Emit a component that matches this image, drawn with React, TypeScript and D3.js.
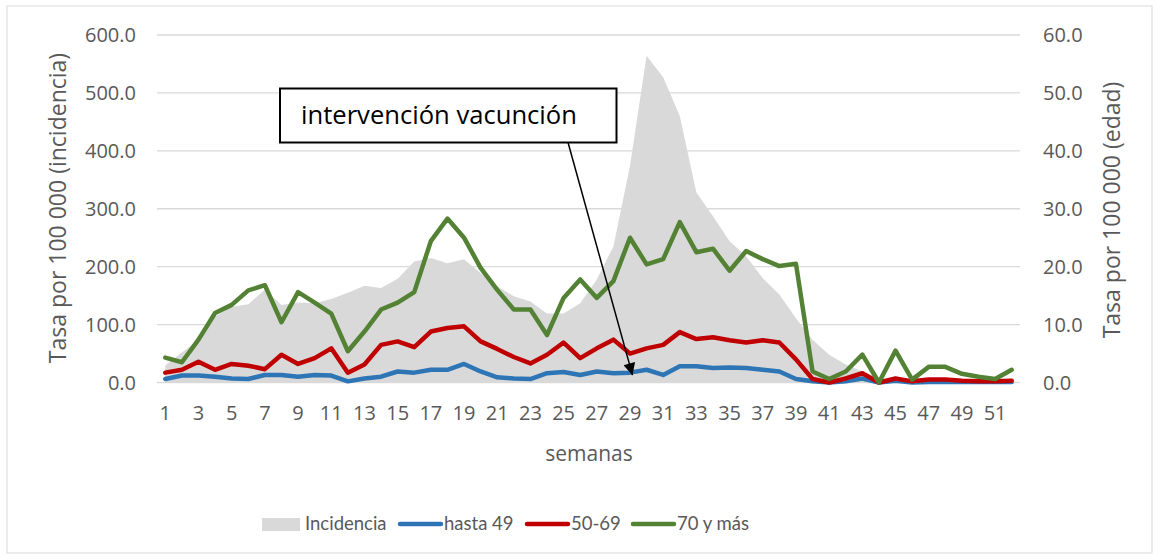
import React from 'react';
import * as d3 from 'd3';

// semanas epidemiológicas
const weeks = d3.range(1, 53);

// incidencia (eje izquierdo)
const incidencia = [
  30, 52, 74, 114, 131, 135, 160, 134, 138, 137, 144, 155, 167, 163, 179, 209, 215, 206,
  213, 189, 166, 149, 140, 119, 119, 137, 178, 235, 374, 564, 527, 460, 328, 287, 244, 218,
  180, 152, 111, 74, 48, 31, 19, 7, 5, 3, 3, 3, 3, 3, 3, 3,
];

// tasas por edad (eje derecho)
const hasta49 = [
  0.6, 1.2, 1.2, 1.0, 0.7, 0.6, 1.3, 1.3, 1.0, 1.3, 1.2, 0.2, 0.7, 1.0, 1.9, 1.7, 2.2, 2.2,
  3.2, 1.9, 0.9, 0.7, 0.6, 1.6, 1.8, 1.3, 1.9, 1.6, 1.7, 2.2, 1.3, 2.8, 2.8, 2.5, 2.6, 2.5,
  2.2, 1.9, 0.6, 0.2, 0, 0.2, 0.7, 0, 0.3, 0, 0.1, 0.1, 0.1, 0.1, 0.1, 0.1,
];
const de50a69 = [
  1.7, 2.2, 3.6, 2.2, 3.2, 2.9, 2.3, 4.8, 3.2, 4.2, 5.9, 1.7, 3.1, 6.5, 7.1, 6.1, 8.8, 9.4,
  9.7, 7.1, 5.8, 4.4, 3.3, 4.8, 6.9, 4.2, 5.9, 7.4, 5.0, 5.9, 6.5, 8.7, 7.5, 7.8, 7.3, 6.9,
  7.3, 6.9, 4.0, 0.6, 0, 0.7, 1.6, 0, 0.7, 0.2, 0.5, 0.5, 0.3, 0.2, 0.2, 0.3,
];
const de70 = [
  4.3, 3.5, 7.4, 12.0, 13.4, 15.9, 16.8, 10.4, 15.6, 13.8, 11.9, 5.4, 8.8, 12.6, 13.8, 15.6, 24.4, 28.3,
  25.0, 19.8, 16.0, 12.6, 12.6, 8.2, 14.6, 17.8, 14.6, 17.5, 25.0, 20.4, 21.3, 27.7, 22.5, 23.1, 19.3, 22.7,
  21.3, 20.1, 20.5, 1.9, 0.6, 1.9, 4.8, 0, 5.5, 0.5, 2.7, 2.7, 1.5, 1.0, 0.6, 2.2,
];

const leftTicks = [0, 100, 200, 300, 400, 500, 600];
const rightTicks = [0, 10, 20, 30, 40, 50, 60];

const series = [
  { name: 'hasta 49', values: hasta49, color: '#2E75B6' },
  { name: '50-69', values: de50a69, color: '#C00000' },
  { name: '70 y más', values: de70, color: '#548235' },
];

const W = 1158;
const H = 559;
const font = '"Open Sans", "Noto Sans", sans-serif';
const narrow = 'Lato, "Liberation Sans", sans-serif';

const App = () => {
  const x = d3.scaleBand<number>().domain(weeks).range([157, 1020]);
  const cx = (w: number) => (x(w) as number) + x.bandwidth() / 2;
  const yL = d3.scaleLinear().domain([0, 600]).range([382.5, 35]);
  const yR = d3.scaleLinear().domain([0, 60]).range([382.5, 35]);

  const area = d3.area<number>()
    .x((_, i) => cx(weeks[i]))
    .y0(yL(0))
    .y1(d => yL(d));

  const line = d3.line<number>()
    .x((_, i) => cx(weeks[i]))
    .y(d => yR(d));

  // flecha de la anotación
  const arrowFrom = { x: cx(25) + 4.5, y: 142.7 };
  const arrowTo = { x: cx(29) + 2.5, y: yR(hasta49[28]) + 2.5 };

  return (
    <svg width={W} height={H} style={{ position: 'absolute', left: 0, top: 0, fontFamily: font }}>
      <defs>
        <marker id="arrow" viewBox="0 0 10 10" refX="10" refY="5" markerUnits="userSpaceOnUse"
          markerWidth="16" markerHeight="12" orient="auto">
          <path d="M0,0 L10,5 L0,10 z" fill="#000" />
        </marker>
      </defs>
      <rect x={0} y={0} width={W} height={H} fill="#fff" />
      <rect x={7} y={6} width={1145} height={547} fill="none" stroke="#d9d9d9" strokeWidth={1} />

      {/* rejilla */}
      {leftTicks.map(t => (
        <line key={t} x1={157} x2={1020} y1={yL(t)} y2={yL(t)} stroke="#d9d9d9" strokeWidth={1.3} />
      ))}

      <path d={area(incidencia) || ''} fill="#d9d9d9" />

      {series.map(s => (
        <path key={s.name} d={line(s.values) || ''} fill="none" stroke={s.color} strokeWidth={4.5}
          strokeLinejoin="round" strokeLinecap="round" />
      ))}

      {/* ejes */}
      {leftTicks.map(t => (
        <text key={t} x={136} y={yL(t)} dy="0.36em" textAnchor="end" fontSize={20} fill="#595959">
          {t.toFixed(1)}
        </text>
      ))}
      {rightTicks.map(t => (
        <text key={t} x={1043} y={yR(t)} dy="0.36em" textAnchor="start" fontSize={20} fill="#595959">
          {t.toFixed(1)}
        </text>
      ))}
      {weeks.filter(w => w % 2 === 1).map(w => (
        <text key={w} x={cx(w)} y={420} textAnchor="middle" fontSize={20} fill="#595959">{w}</text>
      ))}

      <text transform="translate(66,208) rotate(-90)" textAnchor="middle" fontSize={23} fill="#595959">
        Tasa por 100 000 (incidencia)
      </text>
      <text transform="translate(1120,210) rotate(-90)" textAnchor="middle" fontSize={23} fill="#595959">
        Tasa por 100 000 (edad)
      </text>
      <text x={589} y={461} textAnchor="middle" fontSize={21} fill="#595959">semanas</text>

      {/* anotación */}
      <rect x={280} y={88.5} width={336.5} height={54} fill="#fff" stroke="#000" strokeWidth={2} />
      <text x={301} y={124} fontSize={25.6} fill="#000">intervención vacunción</text>
      <line x1={arrowFrom.x} y1={arrowFrom.y} x2={arrowTo.x} y2={arrowTo.y} stroke="#000" strokeWidth={1.5}
        markerEnd="url(#arrow)" />

      {/* leyenda */}
      <g fontSize={18.5} fill="#595959" fontFamily={narrow}>
        <rect x={262} y={518} width={38} height={13} fill="#d9d9d9" />
        <text x={305} y={530}>Incidencia</text>
        {series.map((s, i) => {
          const lx = [400, 527, 633][i];
          return (
            <g key={s.name}>
              <line x1={lx} x2={lx + 41} y1={524} y2={524} stroke={s.color} strokeWidth={4.5} strokeLinecap="round" />
              <text x={lx + 44} y={530}>{s.name}</text>
            </g>
          );
        })}
      </g>
    </svg>
  );
};

export default App;
